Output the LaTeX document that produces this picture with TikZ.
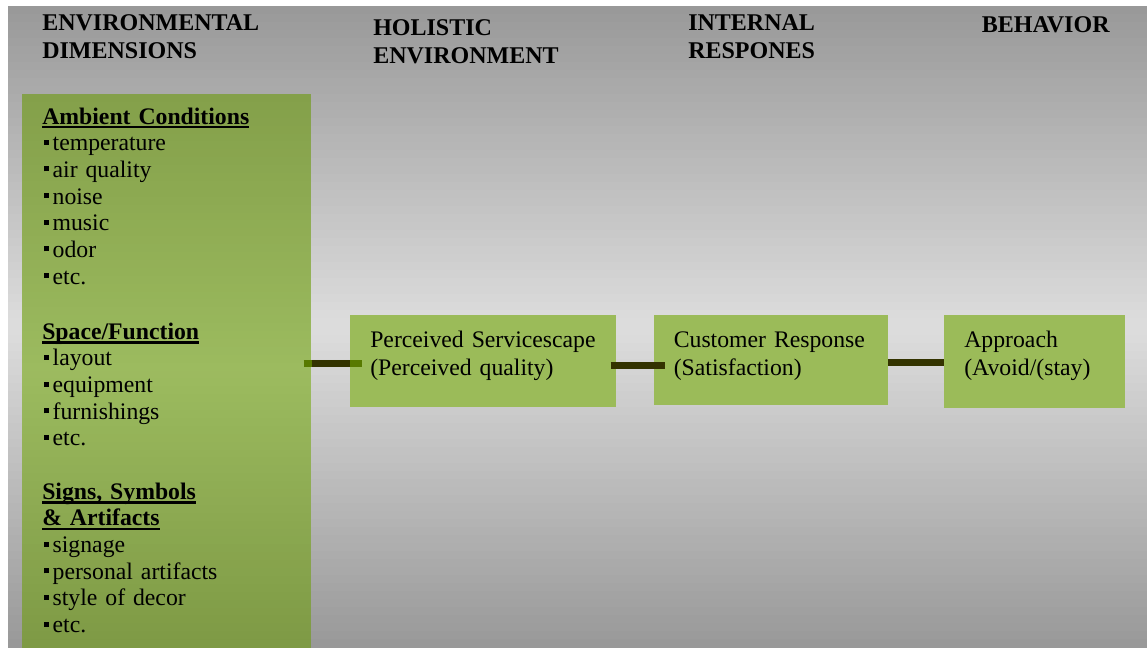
\documentclass[tikz,border=0pt]{standalone}
\usepackage{fontspec}
\setmainfont{Liberation Serif}
\usetikzlibrary{positioning}
\definecolor{bgdark}{RGB}{153,153,153}
\definecolor{bglight}{RGB}{221,221,221}
\definecolor{pantop}{RGB}{132,160,74}
\definecolor{panmid}{RGB}{156,187,95}
\definecolor{panbot}{RGB}{126,154,69}
\definecolor{stagegreen}{RGB}{155,187,89}
\definecolor{linkdark}{RGB}{51,51,0}
\definecolor{linkolive}{RGB}{88,122,0}
% bold heading with a heavy underline
\newcommand\hdline[1]{\leavevmode\setbox0\hbox{\bfseries #1}\rlap{\rule[-3.2pt]{\wd0}{1.9pt}}\box0}
% small square bullet
\newcommand\sqitem{\leavevmode\hspace{1.5pt}\rule[4.5pt]{3.8pt}{3.8pt}\hspace{2.5pt}}
\tikzset{
  heading/.style={anchor=base west, align=left, inner sep=0pt, text width=200pt,
    font=\fontsize{18pt}{21pt}\selectfont\bfseries},
  factors/.style={anchor=base west, align=left, inner sep=0pt, text width=200pt,
    font=\fontsize{17.8pt}{20pt}\selectfont},
  panel/.style={rectangle, inner sep=0pt},
  stage/.style={rectangle, fill=stagegreen, align=left,
    inner xsep=15pt, inner ysep=0pt, text height=24pt,
    font=\fontsize{17.8pt}{21pt}\selectfont},
  link/.style={line width=5.25pt, color=linkdark},
  oliveline/.style={line width=5.25pt, color=linkolive}
}

\begin{document}
\begin{tikzpicture}[x=0.75pt, y=-0.75pt]
  \useasboundingbox (0,0) rectangle (1147,647);
  % background band: dark at top and bottom, light in the middle
  \foreach \i in {0,...,79}{
    \pgfmathsetmacro\mix{abs(\i-39.5)/39.5*100}
    \fill[bgdark!\mix!bglight] (8,6+\i*8.0125) rectangle (1147,6+\i*8.0125+8.6);
  }

  % column headings
  \node[heading] (envhead) at (42,30.5) {ENVIRONMENTAL\\DIMENSIONS};
  \node[heading] (holhead) at (373,35) {HOLISTIC\\ENVIRONMENT};
  \node[heading] (inthead) at (688,30.7) {INTERNAL\\RESPONES};
  \node[heading] (behhead) at (981.7,32) {BEHAVIOR};

  % environmental dimensions
  \foreach \i in {0,...,69}{
    \pgfmathsetmacro\mix{abs(\i-34.5)/34.5*100}
    \ifnum\i<35 \def\edge{pantop}\else\def\edge{panbot}\fi
    \fill[\edge!\mix!panmid] (22,94+\i*7.9) rectangle (311,94+\i*7.9+8.4);
  }
  \node[panel, anchor=north west, minimum width=216.75pt,
    minimum height=414.75pt] (envpanel) at (22,94) {};
  \node[factors] (ambient) at (42,124) {\hdline{Ambient Conditions}\\
    \sqitem temperature\\
    \sqitem air quality\\
    \sqitem noise\\
    \sqitem music\\
    \sqitem odor\\
    \sqitem etc.};
  \node[factors] (space) at (42,339.3) {\hdline{Space/Function}\\
    \sqitem layout\\
    \sqitem equipment\\
    \sqitem furnishings\\
    \sqitem etc.};
  \node[factors] (signs) at (42,499.3) {\hdline{Signs, Symbols}\\
    \hdline{\& Artifacts}\\
    \sqitem signage\\
    \sqitem personal artifacts\\
    \sqitem style of decor\\
    \sqitem etc.};

  % stages
  \node[stage, anchor=north west, text width=169.5pt, text depth=45pt]
    (perc) at (350,315) {\mbox{Perceived Servicescape}\\(Perceived quality)};
  \node[stage, right=27.75pt of perc.north east, anchor=north west,
    text width=145.5pt, text depth=43.5pt]
    (cust) {\mbox{Customer Response}\\(Satisfaction)};
  \node[stage, right=42pt of cust.north east, anchor=north west,
    text width=105.75pt, text depth=45.75pt]
    (appr) {Approach\\(Avoid/(stay)};

  % connectors
  \coordinate (row1) at (0,363);
  \coordinate (row2) at (0,365.5);
  \coordinate (row3) at (0,362.5);
  \draw[oliveline] ([xshift=-6pt]envpanel.east |- row1) -- ([xshift=9pt]perc.west |- row1);
  \draw[link] (envpanel.east |- row1) -- (perc.west |- row1);
  \draw[link] ([xshift=-4.5pt]perc.east |- row2) -- ([xshift=8.25pt]cust.west |- row2);
  \draw[link] (cust.east |- row3) -- (appr.west |- row3);
\end{tikzpicture}
\end{document}
